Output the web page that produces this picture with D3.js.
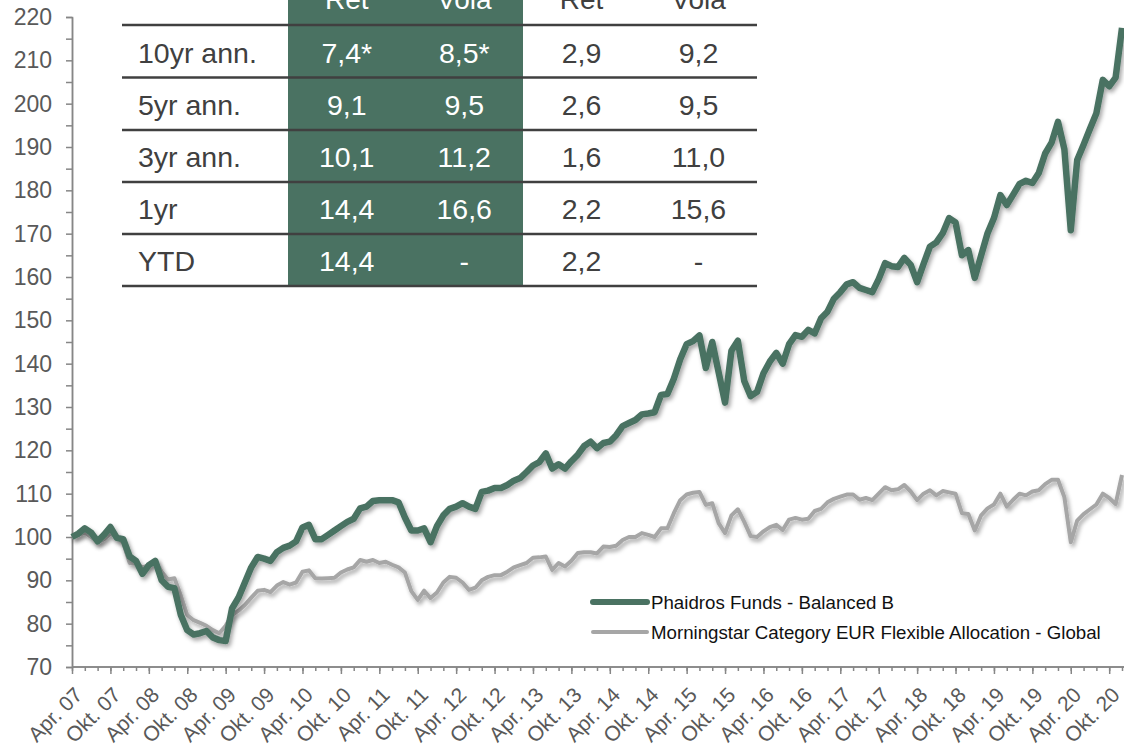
<!DOCTYPE html>
<html>
<head>
<meta charset="utf-8">
<script src="https://cdn.jsdelivr.net/npm/d3@7"></script>
<style>
  body { margin: 0; background: #fff; }
  svg { display: block; font-family: "Liberation Sans", Arial, sans-serif; }
</style>
</head>
<body>
<div id="chart"></div>
<script>
// monthly index values, Apr 07 (=100) to Dec 20
var phaidros = [
  100, 100.8, 102, 101, 99, 100.5, 102.3, 99.8, 99.5, 95.5,
  94.5, 91.5, 93.5, 94.5, 90, 88.5, 88.2, 82, 78.5, 77.5,
  77.8, 78.3, 76.8, 76.2, 76, 83.5, 86, 89.5, 93, 95.4,
  95, 94.5, 96.5, 97.5, 98, 99, 102.2, 102.8, 99.5, 99.5,
  100.5, 101.5, 102.5, 103.5, 104.2, 106.6, 107, 108.3, 108.5, 108.5,
  108.5, 108, 104.5, 101.5, 101.5, 102, 98.8, 102.5, 105, 106.5,
  107, 107.8, 107, 106.5, 110.4, 110.7, 111.3, 111.3, 112, 113,
  113.6, 115, 116.5, 117.3, 119.3, 115.8, 116.8, 115.8, 117.5, 119,
  121, 122, 120.5, 121.7, 122, 123.5, 125.6, 126.3, 127, 128.3,
  128.5, 128.8, 132.8, 133, 136.5, 141, 144.5, 145.2, 146.5, 139,
  145, 138, 131, 143, 145.3, 136, 132.5, 133.5, 137.8, 140.5,
  142.5, 140, 144.5, 146.6, 146.2, 147.8, 147, 150.5, 152, 155,
  156.5, 158.3, 158.8, 157.5, 157, 156.5, 159.5, 163.2, 162.5, 162.3,
  164.4, 162.8, 158.8, 163, 167, 168, 170.1, 173.6, 172.6, 165,
  166.2, 159.8, 165, 170.1, 173.6, 178.9, 176.6, 179, 181.5, 182.2,
  181.7, 184, 188.5, 191, 195.8, 189.5, 170.8, 187, 190.5, 194.2,
  197.8, 205.5, 204, 206, 217.5
];

var category = [
  100, 100.5, 101, 100, 98.8, 99.5, 100.8, 100, 98.6, 94,
  93.8, 93, 93.5, 94.5, 92, 90.2, 90.5, 86.5, 82, 80.8,
  80.2, 79.5, 78.5, 77.8, 79.5, 82, 83, 84.3, 86, 87.6,
  87.8, 87.3, 88.8, 89.6, 89, 89.5, 92, 92.3, 90.5, 90.4,
  90.5, 90.6, 91.8, 92.5, 93, 94.7, 94.3, 94.7, 94, 94.3,
  93.6, 93, 91.8, 87.5, 85.5, 87.6, 85.9, 87.2, 89.5, 90.8,
  90.6, 89.5, 87.8, 88.3, 90, 90.8, 91.2, 91.2, 92, 93,
  93.5, 94, 95.2, 95.3, 95.5, 92.4, 94, 93.2, 94.5, 96.3,
  96.5, 96.5, 96.2, 97.8, 97.7, 98, 99.3, 100, 100, 100.9,
  100.5, 100, 102, 102, 105.5, 108.5, 109.8, 110.2, 110.4, 107.4,
  107.8, 103.2, 100.9, 105, 106.4, 103.5, 100.2, 100, 101.3, 102.3,
  102.8, 101.6, 104, 104.4, 104, 104.2, 106, 106.5, 108, 108.8,
  109.3, 109.8, 109.8, 108.6, 109, 108.5, 110, 111.5, 110.8, 111,
  112, 110.5, 108.5, 110, 110.8, 109.6, 110.6, 110.3, 110, 105.5,
  105.3, 101.5, 105, 106.6, 107.5, 110, 107, 108.6, 110, 109.6,
  110.5, 110.8, 112.2, 113.2, 113.2, 109.2, 98.8, 103.8, 105.3, 106.4,
  107.5, 110, 109, 107.6, 114.3
];

var tickLabels = [
  "Apr. 07", "Okt. 07", "Apr. 08", "Okt. 08", "Apr. 09", "Okt. 09", "Apr. 10",
  "Okt. 10", "Apr. 11", "Okt. 11", "Apr. 12", "Okt. 12", "Apr. 13", "Okt. 13",
  "Apr. 14", "Okt. 14", "Apr. 15", "Okt. 15", "Apr. 16", "Okt. 16", "Apr. 17",
  "Okt. 17", "Apr. 18", "Okt. 18", "Apr. 19", "Okt. 19", "Apr. 20", "Okt. 20"
];

var seriesNames = ["Phaidros Funds - Balanced B", "Morningstar Category EUR Flexible Allocation - Global"];

// performance table
var headers = ["Ret", "Vola", "Ret", "Vola"];
var rowLabels = ["10yr ann.", "5yr ann.", "3yr ann.", "1yr", "YTD"];
var fundRet = ["7,4*", "9,1", "10,1", "14,4", "14,4"];
var fundVola = ["8,5*", "9,5", "11,2", "16,6", "-"];
var catRet = ["2,9", "2,6", "1,6", "2,2", "2,2"];
var catVola = ["9,2", "9,5", "11,0", "15,6", "-"];

var green = "#4a7262", grey = "#a6a6a6", axisCol = "#868686", labelCol = "#595959";

var W = 1124, H = 755;
var svg = d3.select("#chart").append("svg")
    .attr("width", W)
    .attr("height", H);

var defs = svg.append("defs");
var f = defs.append("filter").attr("id", "shadow")
    .attr("x", "-5%").attr("y", "-5%").attr("width", "110%").attr("height", "110%");
f.append("feDropShadow")
    .attr("dx", 2).attr("dy", 3).attr("stdDeviation", 2)
    .attr("flood-color", "#000").attr("flood-opacity", 0.35);

var xScale = d3.scaleLinear()
    .domain([0, phaidros.length - 1])
    .range([72, 1122]);

var yScale = d3.scaleLinear()
    .domain([70, 220])
    .range([667, 17]);

// ---- table ----
var table = svg.append("g").attr("class", "table");
var colX = [122, 288, 405.5, 523, 640, 757];
var rowY = [25, 77.5, 130, 182, 234, 286];

table.append("rect")
    .attr("x", colX[1]).attr("y", 0)
    .attr("width", colX[3] - colX[1]).attr("height", rowY[5])
    .attr("fill", green);

// header row is cut by the top edge, like in the source
table.selectAll(".hdr")
    .data(headers)
  .enter().append("text")
    .attr("class", "hdr")
    .attr("x", function(d, i) { return (colX[i + 1] + colX[i + 2]) / 2; })
    .attr("y", rowY[0] - 26)
    .attr("dy", "0.36em")
    .attr("text-anchor", "middle")
    .attr("font-size", 28)
    .attr("fill", function(d, i) { return i < 2 ? "#fff" : "#404040"; })
    .text(function(d) { return d; });

var cols = [fundRet, fundVola, catRet, catVola];
rowLabels.forEach(function(lab, r) {
  var cy = (rowY[r] + rowY[r + 1]) / 2 + 1;
  table.append("text")
      .attr("x", 138).attr("y", cy).attr("dy", "0.36em")
      .attr("font-size", 28.5).attr("fill", "#404040")
      .text(lab);
  cols.forEach(function(col, c) {
    table.append("text")
        .attr("x", (colX[c + 1] + colX[c + 2]) / 2)
        .attr("y", cy).attr("dy", "0.36em")
        .attr("text-anchor", "middle")
        .attr("font-size", 28.5)
        .attr("fill", c < 2 ? "#fff" : "#404040")
        .text(col[r]);
  });
});

table.selectAll(".rule")
    .data(rowY)
  .enter().append("line")
    .attr("class", "rule")
    .attr("x1", colX[0]).attr("x2", colX[5])
    .attr("y1", function(d) { return d; })
    .attr("y2", function(d) { return d; })
    .attr("stroke", "#404040")
    .attr("stroke-width", 2.5);

// ---- axes ----
var yMinor = svg.append("g")
    .attr("transform", "translate(72,0)")
    .call(d3.axisLeft(yScale).tickValues(d3.range(75, 220, 10)).tickSize(6).tickFormat(""));
var yAxis = svg.append("g")
    .attr("transform", "translate(72,0)")
    .call(d3.axisLeft(yScale).tickValues(d3.range(70, 221, 10)).tickSize(6).tickSizeOuter(0).tickPadding(14));
yAxis.selectAll("text").attr("font-size", 23).attr("fill", labelCol).attr("font-family", "Liberation Sans, Arial, sans-serif");

var xMinor = svg.append("g")
    .attr("transform", "translate(0,667)")
    .call(d3.axisBottom(xScale).tickValues(d3.range(0, phaidros.length, 2)).tickSize(4).tickSizeOuter(0).tickFormat(""));
var xAxis = svg.append("g")
    .attr("transform", "translate(0,667)")
    .call(d3.axisBottom(xScale)
      .tickValues(tickLabels.map(function(d, i) { return i * 6; }))
      .tickSize(7).tickSizeOuter(0)
      .tickFormat(function(d, i) { return tickLabels[i]; }));
xAxis.selectAll("text")
    .attr("font-size", 21)
    .attr("fill", labelCol)
    .attr("font-family", "Liberation Sans, Arial, sans-serif")
    .attr("text-anchor", "end")
    .attr("x", 0).attr("y", 0)
    .attr("dy", "0.35em")
    .attr("transform", "translate(6,24) rotate(-45)");

[yMinor, yAxis, xMinor, xAxis].forEach(function(g) {
  g.selectAll("path,line").attr("stroke", axisCol).attr("stroke-width", 1.5);
});
xMinor.select(".domain").attr("d", "M72,0H1124");
xAxis.select(".domain").attr("d", "M72,0H1124");

// ---- lines ----
var line = d3.line()
    .x(function(d, i) { return xScale(i); })
    .y(function(d) { return yScale(d); });

svg.append("path")
    .datum(category)
    .attr("fill", "none")
    .attr("stroke", grey)
    .attr("stroke-width", 4)
    .attr("stroke-linejoin", "round")
    .attr("filter", "url(#shadow)")
    .attr("d", line);

svg.append("path")
    .datum(phaidros)
    .attr("fill", "none")
    .attr("stroke", green)
    .attr("stroke-width", 6.5)
    .attr("stroke-linejoin", "round")
    .attr("filter", "url(#shadow)")
    .attr("d", line);

// ---- legend ----
var legend = svg.append("g").attr("transform", "translate(593,602)");
[green, grey].forEach(function(c, i) {
  legend.append("line")
      .attr("x1", 0).attr("x2", 54)
      .attr("y1", i * 30).attr("y2", i * 30)
      .attr("stroke", c)
      .attr("stroke-width", i === 0 ? 6 : 4)
      .attr("stroke-linecap", "round");
  legend.append("text")
      .attr("x", 58).attr("y", i * 30).attr("dy", "0.36em")
      .attr("font-size", 18.7)
      .attr("fill", "#111")
      .text(seriesNames[i]);
});
</script>
</body>
</html>
